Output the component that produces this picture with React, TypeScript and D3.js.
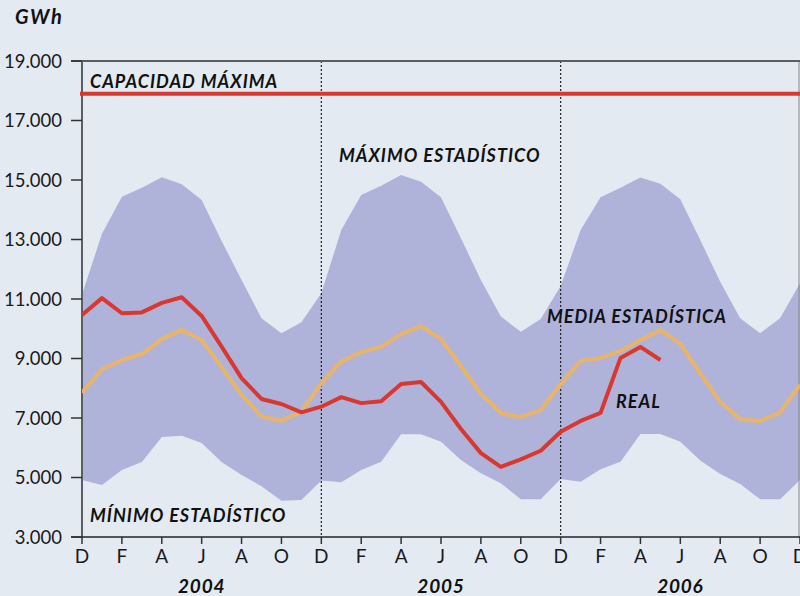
import React from "react";
import * as d3 from "d3";

const monthLabels = ["D", "F", "A", "J", "A", "O", "D", "F", "A", "J", "A", "O", "D", "F", "A", "J", "A", "O", "D"];
const years = ["2004", "2005", "2006"];
const yTicks = [3000, 5000, 7000, 9000, 11000, 13000, 15000, 17000, 19000];

// Monthly values, Dec 2003 .. Dec 2006 (37 points)
const maxStat = [11150, 13190, 14440, 14740, 15090, 14860, 14330, 12950, 11640, 10350, 9850, 10220,
  11190, 13320, 14500, 14810, 15170, 14940, 14420, 13040, 11640, 10410, 9900, 10330,
  11440, 13320, 14420, 14740, 15080, 14870, 14350, 12980, 11580, 10350, 9850, 10350, 11530];
const minStat = [4920, 4750, 5250, 5520, 6360, 6400, 6160, 5520, 5080, 4710, 4220, 4240,
  4900, 4840, 5250, 5530, 6450, 6450, 6200, 5590, 5140, 4810, 4270, 4270,
  4950, 4860, 5280, 5530, 6460, 6460, 6200, 5570, 5120, 4780, 4270, 4270, 4920];
const meanStat = [7850, 8640, 8950, 9150, 9650, 9960, 9620, 8710, 7780, 7050, 6910, 7210,
  8170, 8900, 9220, 9390, 9820, 10090, 9650, 8750, 7810, 7170, 7030, 7270,
  8140, 8920, 9020, 9250, 9620, 9960, 9490, 8500, 7550, 6960, 6900, 7190, 8110];
const real = [10460, 11030, 10520, 10550, 10870, 11060, 10430, 9400, 8340, 7640, 7470, 7190,
  7380, 7700, 7500, 7560, 8140, 8210, 7540, 6630, 5820, 5360, 5610, 5900,
  6540, 6900, 7170, 9020, 9390, 8950];
const capacity = 17900;

const W = 800, H = 596;
const left = 82, right = 800, top = 61, bottom = 537;
const FONT = "Lato, 'Open Sans', sans-serif";

export default function App() {
  const x = d3.scaleLinear().domain([0, 36]).range([left, right]);
  const y = d3.scaleLinear().domain([3000, 19000]).range([bottom, top]);
  const idx = d3.range(37);

  const area = d3.area<number>().x((i) => x(i)).y0((i) => y(minStat[i])).y1((i) => y(maxStat[i]))(idx) || "";
  const meanPath = d3.line<number>().x((d, i) => x(i)).y((d) => y(d))(meanStat) || "";
  const realPath = d3.line<number>().x((d, i) => x(i)).y((d) => y(d))(real) || "";

  const fmt = (v: number) => d3.format(",")(v).replace(/,/g, ".");

  const labelStyle = { fontFamily: FONT, fontStyle: "italic", fontWeight: 700, fontSize: 18, letterSpacing: 1, fill: "#111" } as const;

  return (
    <svg width={W} height={H} style={{ position: "absolute", left: 0, top: 0 }}>
      <rect x={0} y={0} width={W} height={H} fill="#e3eaf2" />
      <defs>
        <clipPath id="plot">
          <rect x={left} y={top} width={right - left} height={bottom - top} />
        </clipPath>
      </defs>
      <g clipPath="url(#plot)">
        <path d={area} fill="#b0b3d9" />
      </g>
      {/* dotted year separators */}
      {[12, 24].map((i) => (
        <line key={i} x1={x(i)} x2={x(i)} y1={top} y2={bottom} stroke="#222" strokeWidth={1.2} strokeDasharray="2,2" />
      ))}
      <line x1={right - 1} x2={right - 1} y1={top} y2={bottom} stroke="#888" strokeWidth={1} />
      {/* frame */}
      <line x1={71} x2={W} y1={top} y2={top} stroke="#5a5e63" strokeWidth={2} />
      <line x1={left} x2={left} y1={top} y2={bottom} stroke="#5a5e63" strokeWidth={2} />
      <line x1={71} x2={W} y1={bottom} y2={bottom} stroke="#222" strokeWidth={1.5} />
      {/* y ticks */}
      {yTicks.map((t) => (
        <g key={t}>
          <line x1={71} x2={left} y1={y(t)} y2={y(t)} stroke="#333" strokeWidth={1.5} />
          <text x={62} y={y(t) + 6.5} textAnchor="end" fontFamily={FONT} fontSize={18.5} fill="#1a1a1a">{fmt(t)}</text>
        </g>
      ))}
      {/* x ticks */}
      {monthLabels.map((m, k) => (
        <g key={k}>
          <line x1={x(k * 2)} x2={x(k * 2)} y1={bottom} y2={bottom + 7} stroke="#333" strokeWidth={1.5} />
          <text x={x(k * 2)} y={563} textAnchor="middle" fontFamily={FONT} fontSize={19} fill="#1a1a1a">{m}</text>
        </g>
      ))}
      {years.map((yr, k) => (
        <text key={yr} x={x(6 + k * 12)} y={593} textAnchor="middle" {...labelStyle} fontSize={19} letterSpacing={0.8}>{yr}</text>
      ))}
      <text x={15} y={24} {...labelStyle} fontSize={20} letterSpacing={1.5}>GWh</text>
      {/* capacity line */}
      <line x1={80} x2={W} y1={y(capacity)} y2={y(capacity)} stroke="#d8382f" strokeWidth={4} />
      {/* lines */}
      <path d={meanPath} fill="none" stroke="#e8b46a" strokeWidth={4} strokeLinejoin="round" clipPath="url(#plot)" />
      <path d={realPath} fill="none" stroke="#d8382f" strokeWidth={4} strokeLinejoin="round" />
      {/* labels */}
      <text x={90} y={88} {...labelStyle}>CAPACIDAD MÁXIMA</text>
      <text x={339} y={162} {...labelStyle}>MÁXIMO ESTADÍSTICO</text>
      <text x={547} y={323} {...labelStyle}>MEDIA ESTADÍSTICA</text>
      <text x={616} y={408} {...labelStyle}>REAL</text>
      <text x={90} y={522} {...labelStyle}>MÍNIMO ESTADÍSTICO</text>
    </svg>
  );
}
